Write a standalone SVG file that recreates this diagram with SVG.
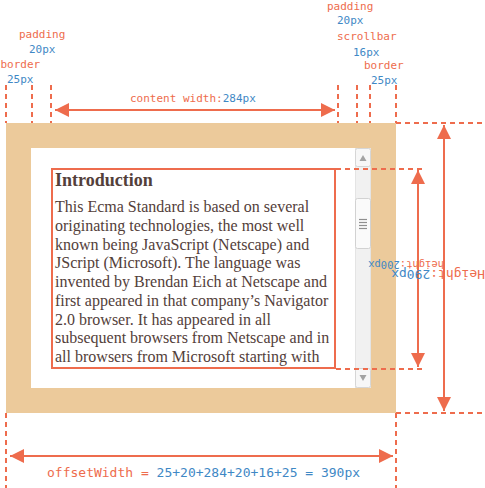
<svg xmlns="http://www.w3.org/2000/svg" width="485" height="488" viewBox="0 0 485 488">
<style>
.lbl{font-family:"DejaVu Sans Mono","Liberation Mono",monospace;font-size:11px;fill:#EE6C4D}
.num{fill:#3F88C5}
.dash{stroke:#EE6C4D;stroke-width:2;stroke-dasharray:5 4;fill:none}
.arr{stroke:#EE6C4D;stroke-width:2;fill:none}
.body{font-family:"Liberation Serif","Times New Roman",serif;font-size:16px;fill:#53403A}
</style>
<defs>
<marker id="ah" viewBox="0 0 14 14" refX="14" refY="7" markerWidth="14" markerHeight="14" markerUnits="userSpaceOnUse" orient="auto-start-reverse">
<path d="M0,0 L14,7 L0,14 z" fill="#EE6C4D"/>
</marker>
</defs>
<rect width="485" height="488" fill="#fff"/>
<g id="border-box">
<rect x="6" y="123" width="390" height="290" fill="#ECCA9B"/>
<rect x="31" y="148" width="340" height="240" fill="#fff"/>
</g>
<g id="scrollbar">
<rect x="355.5" y="148.5" width="15" height="239" fill="#F1F1F1" stroke="#E4E4E4"/>
<rect x="355.5" y="148.5" width="15" height="18" rx="2" fill="#F7F7F7" stroke="#D6D6D6"/>
<path d="M359.5,161 L366.5,161 L363,155 z" fill="#A3A3A3"/>
<rect x="355.5" y="198.5" width="15" height="50" rx="2" fill="#FAFAFA" stroke="#D2D2D2"/>
<g stroke="#8F8F8F" stroke-width="1.2">
<line x1="359" y1="219.5" x2="367" y2="219.5"/>
<line x1="359" y1="222.5" x2="367" y2="222.5"/>
<line x1="359" y1="225.5" x2="367" y2="225.5"/>
<line x1="359" y1="228.5" x2="367" y2="228.5"/>
</g>
<rect x="355.5" y="368.5" width="15" height="19" rx="2" fill="#F7F7F7" stroke="#D6D6D6"/>
<path d="M359.5,375 L366.5,375 L363,381 z" fill="#A3A3A3"/>
</g>
<g id="content-box">
<rect x="52" y="169" width="283" height="199" fill="none" stroke="#EE6C4D" stroke-width="2"/>
<text x="55" y="186" class="body" style="font-weight:bold;font-size:18px">Introduction</text>
<text class="body">
<tspan x="55" y="212">This Ecma Standard is based on several</tspan>
<tspan x="55" y="230.75">originating technologies, the most well</tspan>
<tspan x="55" y="249.5">known being JavaScript (Netscape) and</tspan>
<tspan x="55" y="268.25">JScript (Microsoft). The language was</tspan>
<tspan x="55" y="287">invented by Brendan Eich at Netscape and</tspan>
<tspan x="55" y="305.75">first appeared in that company’s Navigator</tspan>
<tspan x="55" y="324.5">2.0 browser. It has appeared in all</tspan>
<tspan x="55" y="343.25">subsequent browsers from Netscape and in</tspan>
<tspan x="55" y="362">all browsers from Microsoft starting with</tspan>
</text>
</g>
<g id="connectors">
<line class="dash" x1="6" y1="85" x2="6" y2="123"/>
<line class="dash" x1="32" y1="85" x2="32" y2="123"/>
<line class="dash" x1="51" y1="85" x2="51" y2="123"/>
<line class="dash" x1="338" y1="85" x2="338" y2="123"/>
<line class="dash" x1="357" y1="85" x2="357" y2="123"/>
<line class="dash" x1="370" y1="85" x2="370" y2="123"/>
<line class="dash" x1="396" y1="85" x2="396" y2="123"/>
<line class="dash" x1="396" y1="123" x2="485" y2="123"/>
<line class="dash" x1="396" y1="413" x2="485" y2="413"/>
<line class="dash" x1="336" y1="169" x2="422" y2="169"/>
<line class="dash" x1="336" y1="369" x2="422" y2="369"/>
<line class="dash" x1="6" y1="413" x2="6" y2="488"/>
<line class="dash" x1="396" y1="413" x2="396" y2="488"/>
<line class="arr" x1="55" y1="110" x2="335" y2="110" marker-start="url(#ah)" marker-end="url(#ah)"/>
<line class="arr" x1="10" y1="456" x2="393" y2="456" marker-start="url(#ah)" marker-end="url(#ah)"/>
<line class="arr" x1="418" y1="170" x2="418" y2="367" marker-start="url(#ah)" marker-end="url(#ah)"/>
<line class="arr" x1="444" y1="125" x2="444" y2="411" marker-start="url(#ah)" marker-end="url(#ah)"/>
</g>
<g id="labels">
<text class="lbl" x="19" y="38">padding</text>
<text class="lbl num" x="29" y="53">20px</text>
<text class="lbl" x="0.5" y="68">border</text>
<text class="lbl num" x="7" y="83">25px</text>
<text class="lbl" x="327" y="10">padding</text>
<text class="lbl num" x="337" y="24">20px</text>
<text class="lbl" x="337" y="40">scrollbar</text>
<text class="lbl num" x="353" y="56">16px</text>
<text class="lbl" x="364" y="69">border</text>
<text class="lbl num" x="371" y="84">25px</text>
<text class="lbl" x="130" y="102">content width:<tspan class="num">284px</tspan></text>
<text class="lbl" x="47" y="477" style="font-size:13px">offsetWidth = <tspan class="num">25+20+284+20+16+25 = 390px</tspan></text>
<text class="lbl" x="444" y="261" style="font-size:10.5px" transform="rotate(180 444 261)">height:<tspan class="num">200px</tspan></text>
<text class="lbl" x="485" y="270" style="font-size:13px" transform="rotate(180 485 270)">Height:<tspan class="num">290px</tspan></text>
</g>
</svg>
